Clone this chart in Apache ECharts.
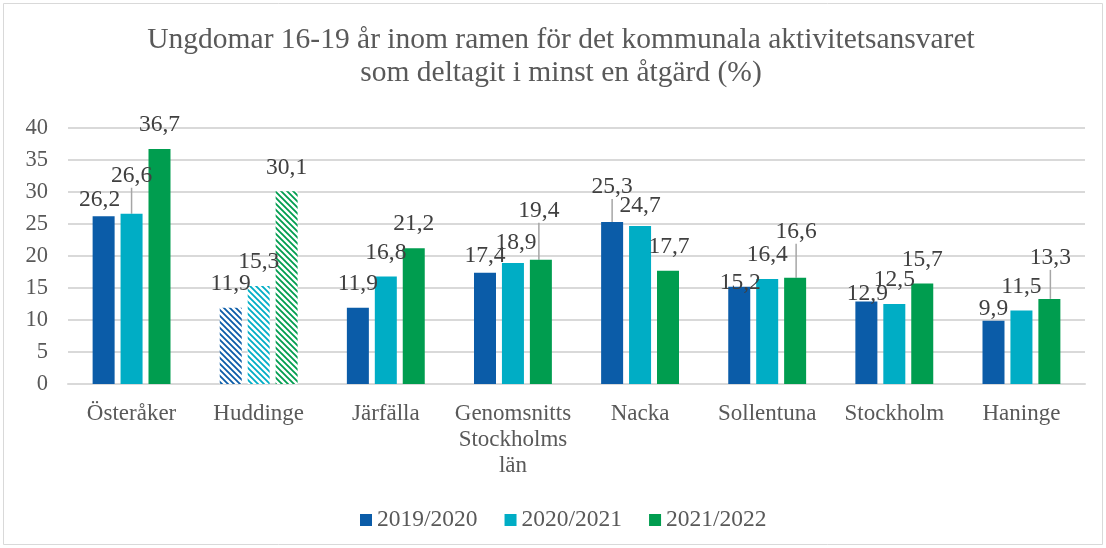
<!DOCTYPE html>
<html>
<head>
<meta charset="utf-8">
<script src="https://cdn.jsdelivr.net/npm/echarts@6/dist/echarts.min.js"></script>
<style>
  html, body { margin: 0; padding: 0; background: #ffffff; }
  #chart { width: 1106px; height: 548px; }
</style>
</head>
<body>
<div id="chart"></div>
<script>
// Categories and yearly shares (%)
const categories = ['Österåker', 'Huddinge', 'Järfälla', 'Genomsnitts\nStockholms\nlän', 'Nacka', 'Sollentuna', 'Stockholm', 'Haninge'];
const seriesNames = ['2019/2020', '2020/2021', '2021/2022'];
const values2019 = [26.2, 11.9, 11.9, 17.4, 25.3, 15.2, 12.9, 9.9];
const values2020 = [26.6, 15.3, 16.8, 18.9, 24.7, 16.4, 12.5, 11.5];
const values2021 = [36.7, 30.1, 21.2, 19.4, 17.7, 16.6, 15.7, 13.3];
const yAxisMin = 0, yAxisMax = 40, yAxisStep = 5;
// Categories drawn with a hatched fill
const hatchedCategories = ['Huddinge'];

const titleText = 'Ungdomar 16-19 år inom ramen för det kommunala aktivitetsansvaret\nsom deltagit i minst en åtgärd (%)';

// Presentation settings
const colors = ['#0b5ca8', '#00adc5', '#009d4f'];
const FONT = '"Liberation Serif", "Times New Roman", serif';
const textGrey = '#595959';
const labelGrey = '#404040';

// Label nudges [dx, dy, leader] per series / category, to keep labels apart
const labelNudge = [
  [[-4, 8], null, null, [0, 7], [0, -11, true], [1, 20], [1, 16], [0, 12]],
  [[0, -14, true], null, null, [3, 4], [0, 4], null, null, null],
  [null, null, null, [-2, -25, true], [1, 0], [1, -22, true], null, [1, -17, true]]
];

function hatchPattern(color) {
  const s = 6;
  const c = document.createElement('canvas');
  c.width = s; c.height = s;
  const ctx = c.getContext('2d');
  ctx.fillStyle = '#ffffff';
  ctx.fillRect(0, 0, s, s);
  ctx.strokeStyle = color;
  ctx.lineWidth = 1.8;
  ctx.beginPath();
  for (const k of [-s, 0, s]) {
    ctx.moveTo(k - 1, -1);
    ctx.lineTo(k + s + 1, s + 1);
  }
  ctx.stroke();
  return { image: c, repeat: 'repeat' };
}

function buildSeries(name, values, si) {
  const color = colors[si];
  const pattern = hatchPattern(color);
  return {
    name: name,
    type: 'bar',
    barWidth: 22,
    barGap: '27%',
    itemStyle: { color: color },
    label: {
      show: true,
      position: 'top',
      distance: 12.5,
      fontFamily: FONT,
      fontSize: 23.5,
      lineHeight: 23,
      color: labelGrey,
      formatter: p => String(p.value).replace('.', ',')
    },
    labelLine: { show: false, lineStyle: { color: '#a6a6a6', width: 1.5 } },
    labelLayout: p => {
      const n = labelNudge[p.seriesIndex][p.dataIndex];
      return n ? { dx: n[0], dy: n[1] } : {};
    },
    data: values.map((v, i) => {
      const item = { value: v };
      if (hatchedCategories.indexOf(categories[i]) >= 0) {
        item.itemStyle = { color: pattern };
      }
      const n = labelNudge[si][i];
      if (n && n[2]) {
        item.labelLine = { show: true, lineStyle: { color: '#a6a6a6', width: 1.5 } };
      }
      return item;
    })
  };
}

const chart = echarts.init(document.getElementById('chart'), null, { renderer: 'canvas' });

chart.setOption({
  animation: false,
  color: colors,
  title: {
    text: titleText,
    left: 561,
    top: 24,
    padding: 0,
    textAlign: 'center',
    textStyle: {
      fontFamily: FONT,
      fontSize: 29.5,
      lineHeight: 33,
      fontWeight: 'normal',
      color: textGrey
    }
  },
  legend: {
    data: seriesNames,
    left: 360,
    top: 508,
    padding: 0,
    itemWidth: 12,
    itemHeight: 12,
    itemGap: 27,
    icon: 'rect',
    textStyle: { fontFamily: FONT, fontSize: 23.5, color: textGrey }
  },
  grid: { left: 68, right: 21, top: 128, bottom: 164, containLabel: false },
  xAxis: {
    type: 'category',
    data: categories,
    axisTick: { show: false },
    axisLine: { lineStyle: { color: '#d9d9d9', width: 2 } },
    axisLabel: {
      fontFamily: FONT,
      fontSize: 23,
      lineHeight: 26,
      color: textGrey,
      margin: 17,
      interval: 0
    }
  },
  yAxis: {
    type: 'value',
    min: yAxisMin,
    max: yAxisMax,
    interval: yAxisStep,
    axisLine: { show: false },
    axisTick: { show: false },
    splitLine: { lineStyle: { color: '#d9d9d9', width: 2 } },
    axisLabel: {
      fontFamily: FONT,
      fontSize: 22.5,
      color: textGrey,
      margin: 20
    }
  },
  graphic: [{
    type: 'rect',
    silent: true,
    shape: { x: 3.5, y: 3.5, width: 1099, height: 541 },
    style: { fill: 'none', stroke: '#d9d9d9', lineWidth: 1 }
  }],
  series: [
    buildSeries(seriesNames[0], values2019, 0),
    buildSeries(seriesNames[1], values2020, 1),
    buildSeries(seriesNames[2], values2021, 2)
  ]
});
</script>
</body>
</html>
